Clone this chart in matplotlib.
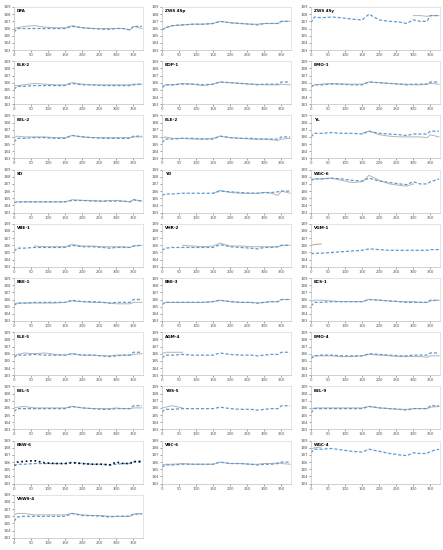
import numpy as np
import matplotlib
matplotlib.use("Agg")
import matplotlib.pyplot as plt

nan = np.nan

days = [0, 10, 30, 60, 90, 120, 150, 170, 200, 230, 260, 280, 300, 320, 340, 350, 375]

titles = ["DFA", "ZWS 4Sp", "ZWS 4Sy",
          "BLK-2", "BOP-1", "BMO-1",
          "BEL-2", "BLE-2", "YL",
          "SD", "YD", "WGC-6",
          "VBE-1", "VHR-2", "VGM-1",
          "BSE-1", "BSE-3", "BCS-1",
          "BLE-5", "AGM-4", "BMO-4",
          "BEL-5", "YBS-5", "BEL-9",
          "BSW-6", "VBC-6", "WGC-4",
          "VSWS-4"]

blue = [
    [185.5, 186.0, 186.0, 186.0, 186.0, 186.0, 186.0, 186.3, 186.1, 186.0, 185.9, 185.9, 186.0, 186.0, 185.8, 186.3, 186.3],
    [185.8, 186.1, 186.4, 186.5, 186.6, 186.6, 186.7, 187.0, 186.8, 186.7, 186.6, 186.5, 186.7, 186.7, 186.7, 187.0, 187.0],
    [186.8, 187.6, 187.5, 187.6, 187.5, 187.3, 187.2, 188.0, 187.2, 187.0, 186.9, 186.7, 187.2, 187.0, 187.0, 187.8, 187.8],
    [185.1, 185.5, 185.5, 185.6, 185.6, 185.6, 185.6, 185.9, 185.7, 185.7, 185.6, 185.6, 185.6, 185.6, 185.6, 185.7, 185.8],
    [185.3, 185.7, 185.7, 185.8, 185.8, 185.7, 185.8, 186.1, 186.0, 185.9, 185.8, 185.7, 185.8, 185.8, 185.8, 186.1, 186.1],
    [185.4, 185.7, 185.7, 185.8, 185.8, 185.7, 185.7, 186.1, 186.0, 185.9, 185.8, 185.7, 185.8, 185.8, 185.8, 186.1, 186.1],
    [185.3, 185.8, 185.8, 185.9, 185.9, 185.8, 185.8, 186.2, 186.0, 185.9, 185.8, 185.8, 185.8, 185.8, 185.8, 186.1, 186.1],
    [185.2, 185.7, 185.7, 185.8, 185.8, 185.7, 185.7, 186.1, 185.9, 185.8, 185.8, 185.7, 185.7, 185.7, 185.7, 186.0, 186.0],
    [186.0, 186.5, 186.5, 186.6, 186.5, 186.5, 186.4, 186.8, 186.5, 186.4, 186.3, 186.2, 186.4, 186.4, 186.4, 186.8, 186.8],
    [184.4, 184.5, 184.5, 184.5, 184.5, 184.5, 184.5, 184.7, 184.7, 184.6, 184.6, 184.6, 184.6, 184.6, 184.5, 184.8, 184.6],
    [185.4, 185.6, 185.6, 185.7, 185.7, 185.7, 185.7, 186.0, 185.9, 185.8, 185.7, 185.7, 185.8, 185.8, 185.9, 186.0, 186.0],
    [187.5, 187.7, 187.7, 187.8, 187.7, 187.5, 187.4, 187.8, 187.4, 187.2, 187.0, 186.9, 187.3, 187.0, 187.0, 187.3, 187.7],
    [185.2, 185.6, 185.6, 185.7, 185.7, 185.7, 185.7, 186.0, 185.8, 185.8, 185.7, 185.6, 185.7, 185.7, 185.7, 185.9, 186.0],
    [185.3, 185.6, 185.7, 185.7, 185.7, 185.7, 185.7, 186.1, 185.8, 185.7, 185.6, 185.5, 185.7, 185.7, 185.8, 186.0, 186.0],
    [184.8, 184.9, 184.9, 185.0, 185.1, 185.2, 185.3, 185.5, 185.4, 185.3, 185.3, 185.3, 185.3, 185.3, 185.3, 185.4, 185.4],
    [185.2, 185.5, 185.5, 185.6, 185.6, 185.6, 185.6, 185.9, 185.7, 185.7, 185.6, 185.5, 185.6, 185.6, 185.6, 186.0, 186.0],
    [185.3, 185.6, 185.6, 185.6, 185.6, 185.6, 185.7, 185.9, 185.7, 185.6, 185.6, 185.5, 185.6, 185.7, 185.7, 186.0, 186.0],
    [185.1, 185.6, 185.6, 185.7, 185.7, 185.7, 185.7, 186.0, 185.9, 185.8, 185.7, 185.6, 185.6, 185.6, 185.6, 185.9, 185.9],
    [185.5, 185.8, 185.8, 185.9, 185.8, 185.8, 185.8, 186.0, 185.8, 185.8, 185.7, 185.6, 185.7, 185.8, 185.8, 186.2, 186.2],
    [185.4, 185.8, 185.8, 185.9, 185.8, 185.8, 185.8, 186.1, 185.9, 185.8, 185.8, 185.7, 185.8, 185.9, 185.9, 186.2, 186.2],
    [185.3, 185.7, 185.8, 185.8, 185.7, 185.7, 185.7, 186.0, 185.9, 185.8, 185.7, 185.7, 185.8, 185.8, 185.8, 186.1, 186.1],
    [185.5, 185.9, 185.9, 185.9, 185.9, 185.9, 185.9, 186.2, 186.0, 185.9, 185.8, 185.8, 185.9, 185.9, 185.9, 186.3, 186.3],
    [185.4, 185.8, 185.8, 185.9, 185.9, 185.9, 185.9, 186.1, 185.9, 185.8, 185.8, 185.7, 185.8, 185.9, 185.9, 186.3, 186.3],
    [185.3, 185.9, 185.9, 185.9, 185.9, 185.9, 185.9, 186.2, 186.0, 185.9, 185.8, 185.7, 185.9, 185.9, 185.9, 186.3, 186.3],
    [185.5, 185.7, 185.7, 185.8, 185.8, 185.8, 185.8, 186.0, 185.8, 185.7, 185.7, 185.6, 185.7, 185.8, 185.8, 186.0, 186.2],
    [185.3, 185.6, 185.6, 185.7, 185.7, 185.7, 185.7, 186.0, 185.8, 185.8, 185.7, 185.6, 185.7, 185.7, 185.8, 186.0, 186.0],
    [187.3, 187.8, 187.8, 187.9, 187.7, 187.5, 187.4, 187.8, 187.5, 187.2, 187.0, 186.9, 187.3, 187.2, 187.2, 187.5, 187.8],
    [185.3, 185.9, 186.0, 186.0, 186.0, 186.0, 186.0, 186.4, 186.1, 186.1, 186.0, 185.9, 186.0, 186.0, 186.0, 186.3, 186.3],
]

gray = [
    [186.0, 186.1, 186.3, 186.4, 186.2, 186.1, 186.1, 186.4, 186.1, 186.0, 186.0, 186.0, 186.0, 186.0, 185.8, 186.3, 186.0],
    [185.8, 186.1, 186.4, 186.5, 186.6, 186.6, 186.7, 187.0, 186.8, 186.7, 186.6, 186.6, 186.7, 186.7, 186.7, 187.0, 187.0],
    [nan, nan, nan, nan, nan, nan, nan, nan, nan, nan, nan, nan, 187.8, 187.8, 187.7, 187.8, 187.8],
    [185.6, 185.6, 185.7, 185.9, 185.8, 185.7, 185.7, 186.0, 185.8, 185.7, 185.7, 185.7, 185.7, 185.7, 185.7, 185.8, 185.8],
    [185.5, 185.7, 185.7, 185.9, 185.8, 185.6, 185.8, 186.1, 186.0, 185.9, 185.8, 185.8, 185.7, 185.7, 185.7, 185.8, 185.7],
    [185.5, 185.7, 185.8, 185.9, 185.8, 185.8, 185.8, 186.1, 186.0, 185.9, 185.8, 185.8, 185.7, 185.7, 185.8, 185.9, 185.8],
    [185.9, 186.1, 186.0, 186.0, 186.0, 185.9, 185.9, 186.2, 186.0, 185.9, 185.9, 185.9, 185.9, 185.9, 185.9, 186.0, 186.0],
    [185.8, 186.0, 185.8, 185.8, 185.7, 185.7, 185.8, 186.1, 185.9, 185.8, 185.7, 185.7, 185.7, 185.6, 185.5, 185.7, 185.8],
    [nan, nan, nan, nan, nan, nan, 186.5, 186.8, 186.3, 186.1, 186.0, 186.0, 186.0, 186.0, 185.9, 186.3, 186.0],
    [184.4, 184.5, 184.5, 184.5, 184.5, 184.5, 184.5, 184.8, 184.7, 184.7, 184.6, 184.7, 184.7, 184.6, 184.5, 184.8, 184.6],
    [nan, nan, nan, nan, nan, nan, 185.7, 186.1, 185.8, 185.7, 185.7, 185.7, 185.8, 185.7, 185.4, 186.0, 185.7],
    [187.6, 187.7, 187.7, 187.8, 187.5, 187.2, 187.3, 188.2, 187.5, 187.0, 186.8, 186.7, 187.0, nan, nan, nan, nan],
    [nan, nan, nan, 185.9, 185.8, 185.8, 185.8, 186.1, 185.9, 185.9, 185.8, 185.8, 185.8, 185.8, 185.7, 185.9, 186.0],
    [nan, nan, nan, 186.0, 185.9, 185.8, 185.9, 186.3, 185.9, 185.9, 185.8, 185.8, 185.8, 185.8, 185.8, 186.0, 186.0],
    [186.0, 186.1, 186.2, nan, nan, nan, nan, nan, nan, nan, nan, nan, nan, nan, nan, nan, nan],
    [185.4, 185.5, 185.5, 185.5, 185.5, 185.5, 185.6, 185.8, 185.7, 185.6, 185.6, 185.5, 185.4, 185.4, 185.4, 185.6, 185.6],
    [185.3, 185.6, 185.6, 185.6, 185.6, 185.6, 185.7, 185.9, 185.7, 185.6, 185.6, 185.5, 185.6, 185.7, 185.7, 186.0, 186.0],
    [185.7, 185.9, 185.9, 185.8, 185.7, 185.7, 185.7, 186.0, 185.9, 185.8, 185.7, 185.7, 185.7, 185.6, 185.6, 185.8, 185.9],
    [185.7, 185.9, 186.1, 186.0, 186.1, 185.9, 185.8, 186.0, 185.8, 185.8, 185.7, 185.7, 185.8, 185.8, 185.8, 185.9, 186.0],
    [186.0, 186.2, 186.2, 186.2, nan, nan, nan, nan, nan, nan, nan, nan, nan, nan, nan, nan, nan],
    [185.6, 185.7, 185.7, 185.7, 185.6, 185.6, 185.7, 185.9, 185.8, 185.7, 185.6, 185.6, 185.6, 185.6, 185.5, 185.7, 185.7],
    [186.0, 186.1, 186.2, 186.0, 186.0, 186.0, 186.0, 186.2, 186.0, 185.9, 185.9, 185.9, 186.0, 185.9, 185.9, 186.0, 186.0],
    [186.0, 186.1, 186.3, 186.0, nan, nan, nan, nan, nan, nan, nan, nan, nan, nan, nan, nan, nan],
    [185.8, 186.0, 186.0, 186.0, 186.0, 186.0, 186.0, 186.2, 186.0, 185.9, 185.8, 185.8, 185.9, 185.9, 185.9, 186.1, 186.2],
    [nan] * 17,
    [185.6, 185.7, 185.7, 185.8, 185.7, 185.7, 185.7, 186.0, 185.8, 185.8, 185.7, 185.7, 185.8, 185.8, 185.9, 185.8, 185.7],
    [187.8, 188.0, 188.1, nan, nan, nan, nan, nan, nan, nan, nan, nan, nan, nan, nan, nan, nan],
    [186.2, 186.4, 186.4, 186.2, 186.2, 186.2, 186.2, 186.4, 186.2, 186.1, 186.1, 186.0, 186.0, 186.0, 186.0, 186.3, 186.4],
]

# série noire pointillée (uniquement BSW-6)
black_bsw6 = [185.5, 186.0, 186.1, 186.2, 185.9, 185.8, 185.8, 185.9, 185.8, 185.7, 185.7, 185.6, 186.0, 185.8, 185.8, 186.1, 186.0]

y_ticks = [183, 184, 185, 186, 187, 188, 189]
x_ticks = [0, 50, 100, 150, 200, 250, 300, 350]

W, H = 443, 550
fig = plt.figure(figsize=(W / 100, H / 100), dpi=100)

col_left = [14, 162, 311]
ax_w, ax_h = 129, 43
row_pitch = 54.2

for i, name in enumerate(titles):
    r, c = divmod(i, 3)
    top = 7 + r * row_pitch
    ax = fig.add_axes([col_left[c] / W, 1 - (top + ax_h) / H, ax_w / W, ax_h / H])

    ax.plot(days, gray[i], "-", color="#b4b4b4", lw=0.7)
    if name == "VGM-1":
        ax.lines[-1].set_color("#c8a07a")
    ax.plot(days, blue[i], "--", color="#5b9bd5", lw=0.9, dashes=(2.5, 1.5))
    if name == "BSW-6":
        ax.plot(days, black_bsw6, ":", color="black", lw=1.2)

    ax.set_xlim(0, 378)
    ax.set_ylim(183, 189)
    ax.set_xticks(x_ticks)
    ax.set_yticks(y_ticks)
    ax.tick_params(labelsize=2.8, length=1.2, width=0.4, pad=1, colors="#595959")
    for side, sp in ax.spines.items():
        sp.set_linewidth(0.5)
        sp.set_color("#bfbfbf" if side in ("left", "bottom") else "#d9d9d9")
    ax.text(0.02, 0.9, name, transform=ax.transAxes, fontsize=3, fontweight="bold", va="center")

fig.savefig("out.png", dpi=100)
